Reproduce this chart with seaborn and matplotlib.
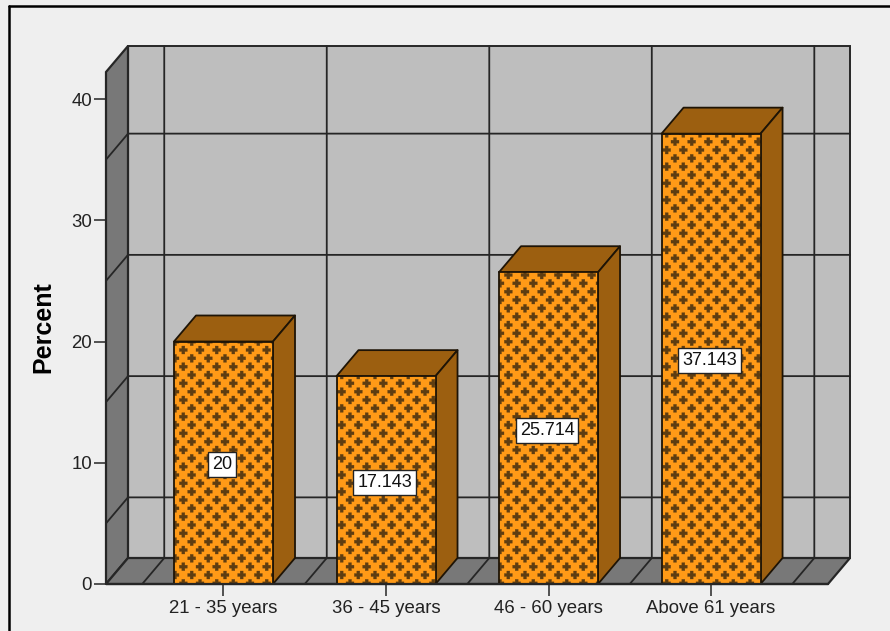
import numpy as np
import pandas as pd
import matplotlib
matplotlib.use("Agg")
import matplotlib.pyplot as plt
import matplotlib.hatch as mhatch
from matplotlib.lines import Line2D
from matplotlib.patches import Polygon
from matplotlib.path import Path
import seaborn as sns

age_groups = ["21 - 35 years", "36 - 45 years", "46 - 60 years", "Above 61 years"]
percent = [20, 17.143, 25.714, 37.143]
value_ticks = [0, 10, 20, 30, 40]
grid_levels = [5, 15, 25, 35]

ORANGE = "#FF9A17"
BROWN = "#9C5F10"
CROSS = "#5E3D11"
OUTLINE = "#1E1406"
WALL = "#BEBEBE"
SHADE = "#787878"
LINE = "#262626"
PAPER = "#EFEFEF"

# Oblique projection of the 3D box, in data units
DEPTH_X = 22 / 162.5
DEPTH_Y = 26 / 12.125


class PlusHatch(mhatch.HatchPatternBase):
    """Staggered rows of solid plus signs."""
    cols = 6
    rows = 12
    arm = 0.040
    half = 0.015

    def __init__(self, hatch, density):
        self.active = "*" in hatch
        plus = np.array([
            (-self.half, -self.arm), (self.half, -self.arm), (self.half, -self.half),
            (self.arm, -self.half), (self.arm, self.half), (self.half, self.half),
            (self.half, self.arm), (-self.half, self.arm), (-self.half, self.half),
            (-self.arm, self.half), (-self.arm, -self.half), (-self.half, -self.half),
            (-self.half, -self.arm),
        ])
        self.plus = plus
        centres = []
        for r in range(self.rows + 1):
            shift = 0.5 / self.cols if r % 2 else 0.0
            for c in range(self.cols + 1):
                centres.append((c / self.cols + shift, r / self.rows))
        self.centres = np.array(centres)
        self.num_vertices = len(self.centres) * len(plus) if self.active else 0

    def set_vertices_and_codes(self, vertices, codes):
        if not self.active:
            return
        n = len(self.plus)
        for i, centre in enumerate(self.centres):
            vertices[i * n:(i + 1) * n] = self.plus + centre
            codes[i * n:(i + 1) * n] = [Path.MOVETO] + [Path.LINETO] * (n - 2) + [Path.CLOSEPOLY]


mhatch._hatch_types = [PlusHatch]

sns.set_theme(style="white")
plt.rcParams["font.family"] = ["Liberation Sans", "DejaVu Sans"]
plt.rcParams["hatch.linewidth"] = 0.2

fig = plt.figure(figsize=(8.9, 6.31), dpi=100, facecolor=PAPER)
ax = fig.add_axes([106 / 890, 47 / 631, 744 / 890, 538 / 631])
ax.patch.set_visible(False)

frame = dict(color="black", lw=1.8, transform=fig.transFigure)
fig.add_artist(Line2D([9 / 890, 9 / 890], [0, 625 / 631], **frame))
fig.add_artist(Line2D([9 / 890, 1], [625 / 631, 625 / 631], **frame))

table = pd.DataFrame({"age": age_groups, "percent": percent})
sns.barplot(data=table, x="age", y="percent", ax=ax, color=ORANGE, saturation=1,
            width=99 / 162.5, gap=0, edgecolor=CROSS, linewidth=0, hatch="*", zorder=5)

x_min, x_max = -0.723, 3.855
y_max = 538 / 12.125
x_front_right = x_max - DEPTH_X
y_front_top = y_max - DEPTH_Y
ax.set_xlim(x_min, x_max)
ax.set_ylim(0, y_max)
ax.set_xlabel("")
ax.set_ylabel("Percent", fontsize=18, fontweight="bold", color="black")
ax.yaxis.set_label_coords(-51 / 744, 257 / 538)

# Back wall, side wall and floor
back_x = x_min + DEPTH_X
ax.add_patch(Polygon([(back_x, DEPTH_Y), (x_max, DEPTH_Y), (x_max, y_max), (back_x, y_max)],
                     fc=WALL, ec=LINE, lw=1.4, zorder=1, clip_on=False))
ax.add_patch(Polygon([(x_min, 0), (back_x, DEPTH_Y), (back_x, y_max), (x_min, y_front_top)],
                     fc=SHADE, ec=LINE, lw=1.6, zorder=1.2, clip_on=False))
ax.add_patch(Polygon([(x_min, 0), (back_x, DEPTH_Y), (x_max, DEPTH_Y), (x_front_right, 0)],
                     fc=SHADE, ec=LINE, lw=1.6, zorder=1.2, clip_on=False))

# Grid lines wrap from the back wall on to the side wall and floor
grid = dict(color=LINE, lw=1.3, zorder=2, clip_on=False)
for level in grid_levels:
    ax.plot([x_min, back_x, x_max], [level, level + DEPTH_Y, level + DEPTH_Y], **grid)
for boundary in np.arange(len(age_groups) + 1) - 0.5:
    ax.plot([boundary, boundary + DEPTH_X, boundary + DEPTH_X], [0, DEPTH_Y, y_max], **grid)

# Extrude each bar: top and right faces plus an outline for the front
for bar in ax.containers[0]:
    x0, w, h = bar.get_x(), bar.get_width(), bar.get_height()
    x1 = x0 + w
    face = dict(fc=BROWN, ec=OUTLINE, lw=1.3, zorder=4, joinstyle="round")
    ax.add_patch(Polygon([(x0, h), (x1, h), (x1 + DEPTH_X, h + DEPTH_Y), (x0 + DEPTH_X, h + DEPTH_Y)], **face))
    ax.add_patch(Polygon([(x1, 0), (x1 + DEPTH_X, DEPTH_Y), (x1 + DEPTH_X, h + DEPTH_Y), (x1, h)], **face))
    ax.add_patch(Polygon([(x0, 0), (x1, 0), (x1, h), (x0, h)], fc="none", ec=OUTLINE, lw=1.3, zorder=6))

value_labels = ax.bar_label(ax.containers[0], fmt="%g", label_type="center", fontsize=13, color="#111111",
                            zorder=8, bbox=dict(boxstyle="square,pad=0.22", fc="white", ec="#222222", lw=1))
for label in value_labels:
    label.xyann = (-1, -1.5)

ax.plot([x_min, x_front_right], [0, 0], color=LINE, lw=1.6, zorder=7, clip_on=False)

ax.set_xticks(range(len(age_groups)), age_groups)
ax.set_yticks(value_ticks)
ax.tick_params(axis="both", which="major", length=8.5, width=1.1, color=LINE, left=True, bottom=True,
               labelsize=13.4, labelcolor="#222222", pad=1.5)
ax.tick_params(axis="x", pad=3)
sns.despine(ax=ax, left=True, bottom=True)

fig.savefig("out.png", dpi=100, facecolor=PAPER)
